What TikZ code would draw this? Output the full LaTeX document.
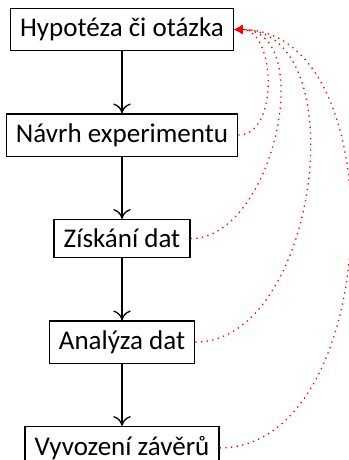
\documentclass[tikz,border=0pt]{standalone}
\usepackage{fontspec}
\setmainfont{Carlito}
\usetikzlibrary{positioning,arrows.meta}
\begin{document}
\begin{tikzpicture}[
  stepbox/.style={draw, semithick, font=\fontsize{12.4}{14}\selectfont, inner sep=4.4pt},
  flow/.style={semithick, -{To[length=4.5pt,width=8pt]}},
  back/.style={red, dotted, semithick, -{Latex[length=4pt,width=4.5pt]}},
  node distance=1cm
]
\useasboundingbox (-1.968,-6.944) rectangle (3.661,0.476);
\node[stepbox] (b1) at (0,0) {Hypotéza či otázka};
\node[stepbox, below=of b1] (b2) {Návrh experimentu};
\node[stepbox, below=of b2] (b3) {Získání dat};
\node[stepbox, below=of b3] (b4) {Analýza dat};
\node[stepbox, below=of b4] (b5) {Vyvození závěrů};
\draw[flow] (b1) -- (b2);
\draw[flow] (b2) -- (b3);
\draw[flow] (b3) -- (b4);
\draw[flow] (b4) -- (b5);
\draw[back] (b2.east) to[out=0,in=0] (b1.east);
\draw[back] (b3.east) to[out=0,in=0] (b1.east);
\draw[back] (b4.east) to[out=0,in=0] (b1.east);
\draw[back] (b5.east) to[out=0,in=0] (b1.east);
\end{tikzpicture}
\end{document}
